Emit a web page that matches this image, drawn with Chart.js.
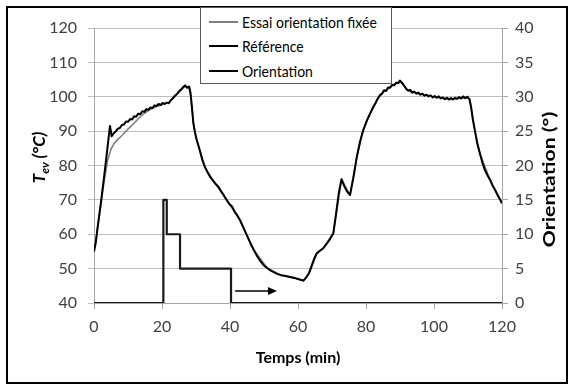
<!DOCTYPE html>
<html>
<head>
<meta charset="utf-8">
<script src="https://cdn.jsdelivr.net/npm/chart.js@4.4.0/dist/chart.umd.min.js"></script>
<style>
  html, body { margin: 0; padding: 0; background: #fff; }
  body { position: relative; width: 574px; height: 389px; overflow: hidden; font-family: Lato, "Open Sans", sans-serif; }
  #frame { position: absolute; left: 6px; top: 6px; width: 562px; height: 378px; border: 2px solid #000; box-sizing: border-box; }
  #chart { position: absolute; left: 0; top: 0; }
  #legend { position: absolute; left: 200px; top: 7px; width: 192px; height: 77px; box-sizing: border-box;
            border: 1px solid #595959; background: #fff; }
  .item { position: absolute; left: 0; height: 20px; line-height: 20px; font-size: 14px; color: #000; white-space: nowrap; }
  .item .mark { position: absolute; left: 8px; top: 9px; width: 29px; height: 0; border-top: 2px solid #000; }
  .item span.txt { position: absolute; left: 41px; top: 0; transform: scaleY(1.12); transform-origin: 0 50%; }
</style>
</head>
<body>
<div id="frame"></div>
<canvas id="chart" width="574" height="389"></canvas>
<div id="legend">
  <div class="item" style="top:4px"><div class="mark" style="border-top:2px solid #7f7f7f"></div><span class="txt">Essai orientation fixée</span></div>
  <div class="item" style="top:28px"><div class="mark"></div><span class="txt">Référence</span></div>
  <div class="item" style="top:53px"><div class="mark" style="border-top-width:2.5px"></div><span class="txt">Orientation</span></div>
</div>
<script>
// ── DATA ─────────────────────────────────────────────────────
// Référence (temperature, left axis)
const refTime = [0, 0.5, 1, 2, 3, 4, 4.7, 5.2, 5.8, 6.4, 7, 7.6, 8.2, 8.8, 9.4, 10, 10.6, 11.2, 11.8, 12.4, 13, 13.6,
  14.2, 14.8, 15.4, 16, 16.6, 17.2, 17.8, 18.4, 19, 19.6, 20.2, 20.8, 21.4, 22, 22.6, 23.2, 23.8, 24.4, 25, 25.6,
  26.2, 26.8, 27.4, 28, 28.4, 28.8, 29.2, 29.7, 30.2, 31, 31.8, 32.6, 33.4, 34.2, 35, 35.8, 36.6, 37.4, 38.2, 39,
  39.8, 40.6, 41.4, 42.2, 43, 44, 45, 46, 47, 48, 49, 50, 51, 52, 53, 54, 55, 56, 57, 58, 59, 60, 61, 61.6, 62.4,
  63.2, 64, 64.8, 65.5, 66.4, 67.4, 68.4, 69.4, 70.4, 71.2, 72, 72.8, 73.6, 74.4, 75.3, 76.3, 77.3, 78.3, 79.2,
  80.2, 81.2, 82, 82.8, 83.4, 84.1, 84.7, 85.3, 85.9, 86.5, 87.1, 87.7, 88.3, 88.9, 89.5, 90, 90.6, 91.2, 91.8,
  92.4, 93, 93.6, 94.2, 94.8, 95.4, 96, 96.6, 97.2, 97.8, 98.4, 99, 99.6, 100.2, 100.8, 101.4, 102, 102.6, 103.2,
  103.8, 104.4, 105, 105.6, 106.2, 106.8, 107.4, 108, 108.6, 109.2, 109.8, 110.4, 110.9, 111.4, 112, 112.7, 113.5,
  114.3, 115, 115.8, 116.5, 117.3, 118, 118.8, 119.5, 120];
const refTemp = [55, 57.5, 61.5, 69, 77, 85.5, 91.5, 88.5, 89.4, 89.9, 90.7, 90.9, 91.8, 91.9, 92.8, 92.7, 93.5, 93.4,
  94.3, 94.2, 95.1, 94.9, 95.8, 95.6, 96.4, 96.2, 96.9, 96.7, 97.5, 97.3, 97.9, 97.6, 98.2, 97.9, 98.3, 98.1, 99,
  99.6, 100.3, 100.8, 101.6, 102.1, 102.8, 103.3, 102.6, 103, 101, 97, 92.5, 89.5, 87.5, 84.8, 81.8, 79.6, 78, 76.6,
  75.6, 74.6, 73.8, 72.5, 71.3, 70, 68.8, 68.1, 66.5, 65.4, 64, 61.8, 59.6, 57.4, 55.4, 53.6, 52.1, 50.9, 50.1,
  49.4, 48.9, 48.4, 48.1, 47.9, 47.7, 47.5, 47.3, 47, 46.7, 46.5, 47.4, 48.6, 50.8, 53, 54.4, 55.2, 55.9, 57.2,
  58.6, 60.3, 66, 72, 76, 74, 72.5, 71.4, 76.5, 82.5, 87.2, 90.3, 93, 95.1, 96.8, 98.2, 99.4, 100.4, 100.9, 101.9,
  101.7, 102.7, 102.6, 103.5, 103.3, 104.1, 103.9, 104.7, 104, 103.3, 102.3, 101.8, 102, 101.2, 101.5, 100.9,
  101.2, 100.6, 100.9, 100.3, 100.6, 100.1, 100.4, 99.8, 100.2, 99.7, 100.1, 99.5, 99.8, 99.3, 99.7, 99.2, 99.6,
  99.2, 99.7, 99.4, 99.9, 99.5, 100.1, 99.6, 100, 99.3, 97, 93.5, 90.3, 86.5, 83.5, 80.6, 78.6, 77, 75.8, 74, 72.8,
  71.2, 70, 69];

// Essai orientation fixée (temperature, left axis)
const essaiTime = [0, 0.5, 1, 2, 3, 4, 5, 6, 7, 8, 10, 12, 14, 16, 18, 20, 22, 24, 26, 26.8, 28, 28.5, 29.2, 30.2,
  32.6, 35.6, 39, 43, 47, 51, 55, 59, 61.6, 63.5, 65.5, 67.4, 70.4, 72.8, 75.3, 77.3, 79.2, 81.2, 84.1, 87.1, 90,
  92.4, 95.9, 99.8, 104.7, 109.6, 110.6, 112, 113.5, 116.5, 120];
const essaiTemp = [55, 57.5, 61.5, 68.5, 75.5, 81.5, 84.8, 86.5, 87.6, 88.5, 90.6, 92.5, 94.6, 96, 97, 97.7, 98.4,
  100.2, 102.3, 103, 102.6, 100, 92.5, 87.5, 79.6, 74.8, 70, 64, 55.4, 50.1, 48.1, 47.3, 46.5, 49.1, 54.4, 55.9,
  60.3, 76, 71.4, 82.5, 90.3, 95.1, 100.5, 102.9, 104.6, 101.7, 100.8, 100, 99.2, 99.8, 99.2, 90.3, 83.5, 75.8, 69];

// Orientation (degrees, right axis)
const orientTime = [0, 20.4, 20.4, 21.4, 21.4, 25.3, 25.3, 40.3, 40.3, 120];
const orientDeg  = [0, 0, 15, 15, 10, 10, 5, 5, 0, 0];

// Axis ranges / ticks
const xTicks     = [0, 20, 40, 60, 80, 100, 120];
const tempTicks  = [40, 50, 60, 70, 80, 90, 100, 110, 120];
const orientTicks = [0, 5, 10, 15, 20, 25, 30, 35, 40];

// Arrow annotation (time, orientation)
const arrowFrom = [41.5, 1.75];
const arrowTo   = [53.8, 1.75];

// ── HELPERS ──────────────────────────────────────────────────
const toPoints = (xs, ys) => xs.map((x, i) => ({ x, y: ys[i] }));
const FONT = "Lato";

// Vertical titles + arrow, drawn on the canvas
const decorPlugin = {
  id: "decor",
  afterDraw(chart) {
    const { ctx, chartArea, scales } = chart;
    const midY = (chartArea.top + chartArea.bottom) / 2;

    // left title: T_ev (°C), bold italic, read bottom to top
    ctx.save();
    ctx.fillStyle = "#000";
    ctx.textBaseline = "middle";
    ctx.translate(40, midY - 8);
    ctx.rotate(-Math.PI / 2);
    const bigF = `italic bold 17px ${FONT}`, subF = `italic bold 12px ${FONT}`;
    ctx.font = bigF; const wT = ctx.measureText("T").width; const wR = ctx.measureText(" (°C)").width;
    ctx.font = subF; const wS = ctx.measureText("ev").width;
    let x0 = -(wT + wS + wR) / 2;
    ctx.font = bigF; ctx.fillText("T", x0, 0);
    ctx.font = subF; ctx.fillText("ev", x0 + wT, 5);
    ctx.font = bigF; ctx.fillText(" (°C)", x0 + wT + wS, 0);
    ctx.restore();

    // right title: Orientation (°), read bottom to top
    ctx.save();
    ctx.fillStyle = "#000";
    ctx.textBaseline = "middle";
    ctx.textAlign = "center";
    ctx.translate(550, midY + 14);
    ctx.rotate(-Math.PI / 2);
    ctx.scale(1.25, 1);
    ctx.font = `bold 17px ${FONT}`;
    ctx.fillText("Orientation (°)", 0, 0);
    ctx.restore();

    // arrow
    const x1 = scales.x.getPixelForValue(arrowFrom[0]);
    const x2 = scales.x.getPixelForValue(arrowTo[0]);
    const y  = scales.y1.getPixelForValue(arrowFrom[1]);
    ctx.save();
    ctx.strokeStyle = "#000";
    ctx.fillStyle = "#000";
    ctx.lineWidth = 1.5;
    ctx.beginPath(); ctx.moveTo(x1, y); ctx.lineTo(x2 - 8, y); ctx.stroke();
    ctx.beginPath(); ctx.moveTo(x2, y); ctx.lineTo(x2 - 9, y - 4); ctx.lineTo(x2 - 9, y + 4); ctx.closePath(); ctx.fill();
    ctx.restore();
  },
};

// ── CHART ────────────────────────────────────────────────────
const tickFont = { family: FONT, size: 16 };

new Chart(document.getElementById("chart"), {
  type: "line",
  data: {
    datasets: [
      {
        label: "Essai orientation fixée",
        data: toPoints(essaiTime, essaiTemp),
        borderColor: "#7f7f7f",
        borderWidth: 1.6,
        yAxisID: "y",
        order: 2,
      },
      {
        label: "Référence",
        data: toPoints(refTime, refTemp),
        borderColor: "#000",
        borderWidth: 2,
        yAxisID: "y",
        order: 1,
      },
      {
        label: "Orientation",
        data: toPoints(orientTime, orientDeg),
        borderColor: "#1a1a1a",
        borderWidth: 2.2,
        yAxisID: "y1",
        order: 0,
      },
    ],
  },
  options: {
    responsive: false,
    animation: false,
    devicePixelRatio: 1,
    layout: { padding: { top: 28, left: 0, right: 0, bottom: 0 } },
    elements: {
      point: { radius: 0, hoverRadius: 0 },
      line: { tension: 0, borderJoinStyle: "round", borderCapStyle: "butt" },
    },
    plugins: { legend: { display: false }, tooltip: { enabled: false } },
    scales: {
      x: {
        type: "linear",
        min: xTicks[0],
        max: xTicks[xTicks.length - 1],
        afterBuildTicks: (s) => { s.ticks = xTicks.map((v) => ({ value: v })); },
        afterFit: (s) => { s.height = 86; },
        ticks: { font: tickFont, color: "#404040", padding: 8, maxRotation: 0 },
        grid: { drawOnChartArea: false, drawTicks: true, tickLength: 6, color: "#a6a6a6" },
        border: { color: "#a6a6a6" },
        title: {
          display: true,
          text: "Temps (min)",
          color: "#000",
          font: { family: FONT, size: 16, weight: "bold" },
          padding: { top: 4, bottom: 22 },
        },
      },
      y: {
        position: "left",
        min: tempTicks[0],
        max: tempTicks[tempTicks.length - 1],
        afterBuildTicks: (s) => { s.ticks = tempTicks.map((v) => ({ value: v })); },
        afterFit: (s) => { s.width = 94; },
        ticks: { font: tickFont, color: "#404040", padding: 11 },
        grid: { color: "#bfbfbf", tickLength: 6 },
        border: { color: "#a6a6a6" },
      },
      y1: {
        position: "right",
        min: orientTicks[0],
        max: orientTicks[orientTicks.length - 1],
        afterBuildTicks: (s) => { s.ticks = orientTicks.map((v) => ({ value: v })); },
        afterFit: (s) => { s.width = 72; },
        ticks: { font: tickFont, color: "#404040", padding: 7 },
        grid: { drawOnChartArea: false, tickLength: 6, color: "#a6a6a6" },
        border: { color: "#a6a6a6" },
      },
    },
  },
  plugins: [decorPlugin],
});
</script>
</body>
</html>
